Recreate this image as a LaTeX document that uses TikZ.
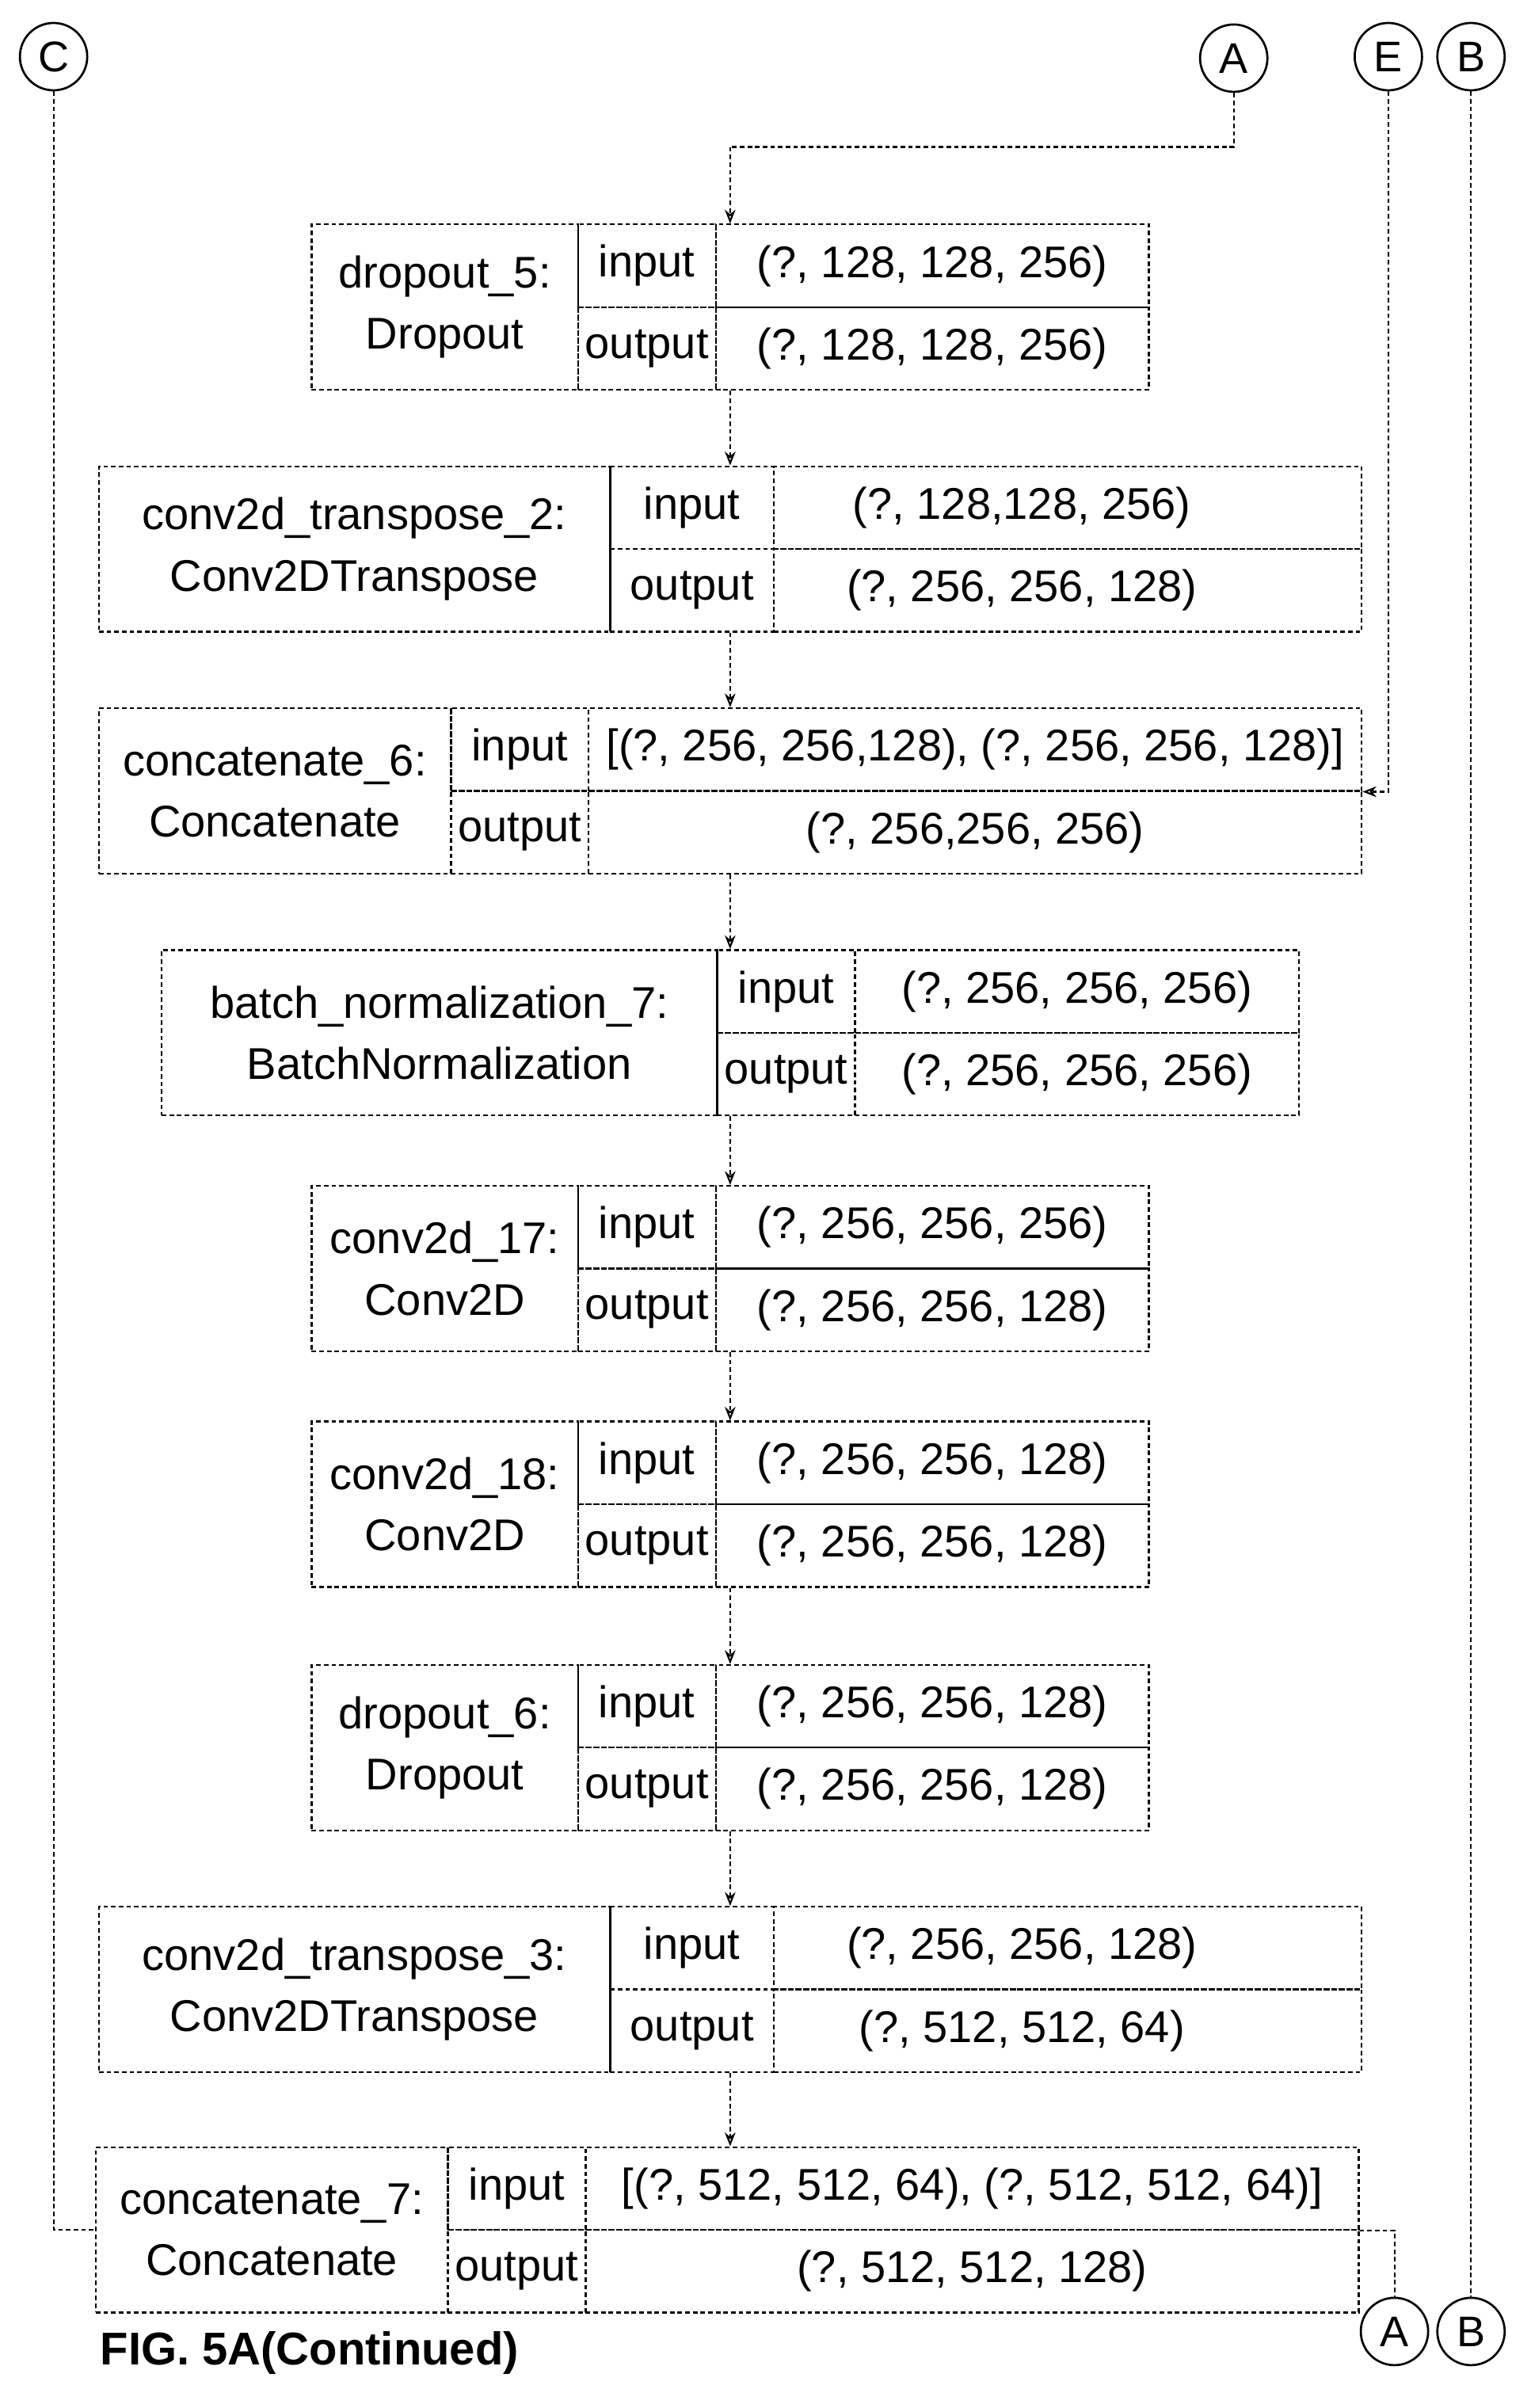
\documentclass[tikz,border=0pt]{standalone}
\usepackage{fontspec}
\setmainfont{Liberation Sans}
\usetikzlibrary{arrows.meta,calc}
\tikzset{
 cell/.style={draw,densely dashed,line width=1.2pt,inner sep=0pt,align=center,font=\fontsize{29}{40}\selectfont},
 conn/.style={densely dashed,line width=1.1pt},
 arr/.style={conn,-{Stealth[length=9pt,width=7pt,open]}},
 lbl/.style={draw,circle,line width=1.4pt,minimum size=44pt,inner sep=0pt,font=\fontsize{28}{30}\selectfont}
}
\newcommand\layer[9]{%
 \pgfmathsetmacro\wa{#3-#2}\pgfmathsetmacro\wb{#4-#3}\pgfmathsetmacro\wc{#5-#4}%
 \node[cell,minimum width=\wa pt,minimum height=108pt,anchor=north west] (#1) at (#2,#6) {#7};
 \node[cell,minimum width=\wb pt,minimum height=54pt,anchor=north west] (#1i) at (#3,#6) {input};
 \node[cell,minimum width=\wb pt,minimum height=54pt,anchor=north west] (#1o) at (#3,#6+54) {output};
 \node[cell,minimum width=\wc pt,minimum height=54pt,anchor=north west] (#1v) at (#4,#6) {#8};
 \node[cell,minimum width=\wc pt,minimum height=54pt,anchor=north west] (#1w) at (#4,#6+54) {#9};
}
\begin{document}
\begin{tikzpicture}[x=1pt,y=-1pt]
\useasboundingbox (0,0) rectangle (1000,1573);
\node[lbl] (C) at (35,37) {C};
\node[lbl] (A) at (806,38) {A};
\node[lbl] (E) at (907,37) {E};
\node[lbl] (B) at (961,37) {B};
\node[lbl] (Ab) at (911,1523) {A};
\node[lbl] (Bb) at (961,1523) {B};
\layer{d5}{203}{377}{467}{750}{146}{dropout\_5:\\Dropout}{(?, 128, 128, 256)}{(?, 128, 128, 256)}
\layer{t2}{64}{398}{505}{889}{304}{conv2d\_transpose\_2:\\Conv2DTranspose}{(?, 128,128, 256)\hspace{60pt}}{(?, 256, 256, 128)\hspace{60pt}}
\layer{c6}{64}{294}{384}{889}{462}{concatenate\_6:\\Concatenate}{[(?, 256, 256,128), (?, 256, 256, 128)]}{(?, 256,256, 256)}
\layer{b7}{105}{468}{558}{848}{620}{batch\_normalization\_7:\\BatchNormalization}{(?, 256, 256, 256)}{(?, 256, 256, 256)}
\layer{k17}{203}{377}{467}{750}{774}{conv2d\_17:\\Conv2D}{(?, 256, 256, 256)}{(?, 256, 256, 128)}
\layer{k18}{203}{377}{467}{750}{928}{conv2d\_18:\\Conv2D}{(?, 256, 256, 128)}{(?, 256, 256, 128)}
\layer{d6}{203}{377}{467}{750}{1087}{dropout\_6:\\Dropout}{(?, 256, 256, 128)}{(?, 256, 256, 128)}
\layer{t3}{64}{398}{505}{889}{1245}{conv2d\_transpose\_3:\\Conv2DTranspose}{(?, 256, 256, 128)\hspace{60pt}}{(?, 512, 512, 64)\hspace{60pt}}
\layer{c7}{62}{292}{382}{887}{1402}{concatenate\_7:\\Concatenate}{[(?, 512, 512, 64), (?, 512, 512, 64)]}{(?, 512, 512, 128)}
\coordinate (X) at (477,0);
\coordinate (a1) at (477,96);
\draw[conn] (A) |- (a1);
\draw[arr] (a1) -- (X |- d5.north);
\foreach \p/\q in {d5/t2,t2/c6,c6/b7,b7/k17,k17/k18,k18/d6,d6/t3,t3/c7}
  \draw[arr] (X |- \p.south) -- (X |- \q.north);
\draw[arr] (E) |- (c6v.south east);
\draw[conn] (B) -- (Bb);
\draw[conn] (C) |- (c7.west);
\draw[conn] (c7v.south east) -| (Ab);
\node[anchor=west,font=\bfseries\fontsize{30}{32}\selectfont] (cap) at (62,1537) {FIG. 5A(Continued)};
\end{tikzpicture}
\end{document}
